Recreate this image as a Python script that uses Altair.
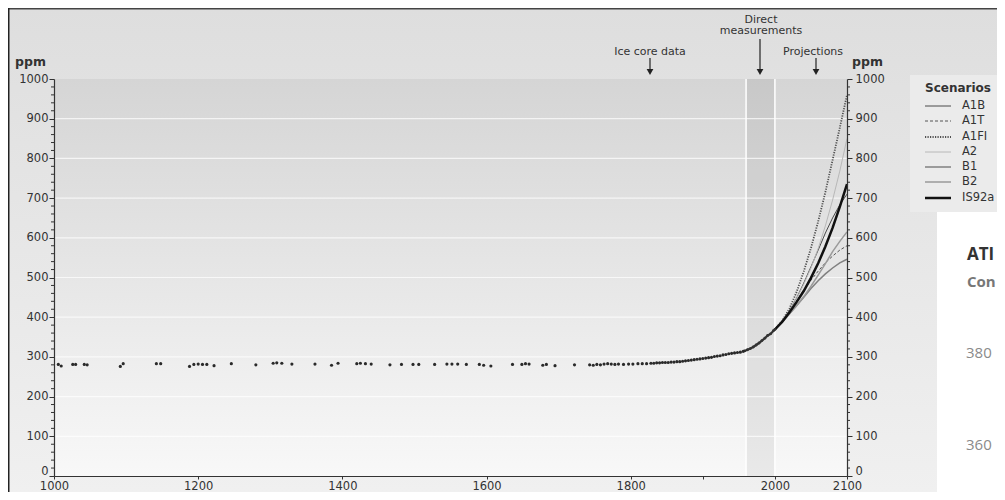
import altair as alt
import pandas as pd

# ---------------- data ----------------
ice_years = [1006, 1010, 1026, 1030, 1042, 1046, 1092, 1096, 1142, 1148,
             1188, 1194, 1200, 1206, 1212, 1222, 1246, 1280, 1304, 1309,
             1316, 1330, 1362, 1385, 1394, 1420, 1425, 1432, 1440, 1466,
             1482, 1498, 1506, 1528, 1545, 1552, 1560, 1572, 1590, 1596,
             1606, 1636, 1649, 1654, 1659, 1678, 1683, 1695, 1722, 1743,
             1748, 1753, 1758, 1763, 1768, 1773, 1778, 1783, 1790, 1797,
             1803, 1810, 1816, 1822, 1828, 1832, 1836, 1840, 1844, 1848,
             1852, 1856, 1860, 1864, 1868, 1872, 1876, 1880, 1884, 1888,
             1892, 1896, 1900, 1904, 1908, 1912, 1916, 1920, 1924, 1928,
             1932, 1936, 1940, 1944, 1948, 1952, 1956]
ice_ppm = [281, 277, 281, 281, 281, 280, 276, 283, 283, 283,
           276, 281, 282, 281, 281, 278, 283, 280, 284, 285,
           284, 282, 282, 279, 284, 283, 284, 283, 282, 280,
           281, 281, 281, 281, 282, 282, 282, 281, 281, 279,
           277, 281, 281, 283, 282, 279, 281, 278, 280, 280,
           279, 281, 280, 282, 283, 282, 281, 282, 281, 282,
           282, 283, 283, 283, 284, 284, 285, 285, 286, 286,
           286, 287, 287, 288, 288, 289, 290, 291, 292, 293,
           294, 295, 296, 297, 298, 299, 301, 302, 303, 305,
           306, 308, 309, 310, 311, 312, 314]

direct_years = [1958, 1962, 1966, 1970, 1974, 1978, 1982, 1986, 1990, 1994, 1998, 2000]
direct_ppm = [315, 318, 321, 325, 330, 335, 341, 347, 354, 358, 366, 369]

proj_years = [2000, 2010, 2020, 2030, 2040, 2050, 2060, 2070, 2080, 2090, 2100]
scenarios = ["A1B", "A1T", "A1FI", "A2", "B1", "B2", "IS92a"]
proj_values = {
    "A1B":   [369, 389, 416, 448, 486, 527, 569, 612, 650, 683, 710],
    "A1T":   [369, 389, 413, 441, 468, 493, 516, 537, 554, 569, 580],
    "A1FI":  [369, 391, 421, 463, 515, 574, 641, 715, 796, 877, 960],
    "A2":    [369, 390, 415, 447, 483, 524, 573, 630, 695, 768, 850],
    "B1":    [369, 388, 408, 429, 450, 472, 492, 509, 524, 537, 546],
    "B2":    [369, 388, 408, 429, 452, 478, 506, 535, 565, 591, 615],
    "IS92a": [369, 388, 412, 438, 466, 499, 536, 578, 625, 678, 735],
}

band_years = [1960, 2000]
y_ticks = [0, 100, 200, 300, 400, 500, 600, 700, 800, 900, 1000]
y_minor = [20, 40, 60, 80, 120, 140, 160, 180, 220, 240, 260, 280,
           320, 340, 360, 380, 420, 440, 460, 480, 520, 540, 560, 580,
           620, 640, 660, 680, 720, 740, 760, 780, 820, 840, 860, 880,
           920, 940, 960, 980]
y_grid = [100, 200, 300, 400, 500, 600, 700, 800, 900]
x_ticks = [1000, 1200, 1400, 1600, 1800, 1900, 2000, 2100]

# ---------------- styles ----------------
FONT = "DejaVu Sans"
W, H = 793, 397
PL, PT, PR, PB = 46, 71, 150, 16
TOTW, TOTH = W + PL + PR, H + PT + PB

styles = {
    "A1B":   dict(color="#4a4a4a", dash=None,    width=1.0),
    "A1T":   dict(color="#555555", dash=[3, 2],  width=1.0),
    "A1FI":  dict(color="#505050", dash=[1.2, 1.3], width=1.8),
    "A2":    dict(color="#b8b8b8", dash=None,    width=1.0),
    "B1":    dict(color="#808080", dash=None,    width=1.5),
    "B2":    dict(color="#9a9a9a", dash=None,    width=1.5),
    "IS92a": dict(color="#111111", dash=None,    width=2.5),
}

def px(x):
    return x - 54

def py(y):
    return y - 79

one = pd.DataFrame({"k": [0]})
ice_df = pd.DataFrame({"year": ice_years, "ppm": ice_ppm})
direct_df = pd.DataFrame({"year": direct_years, "ppm": direct_ppm})
proj_df = pd.DataFrame([
    {"year": yr, "ppm": v, "scenario": s}
    for s in scenarios for yr, v in zip(proj_years, proj_values[s])
])
band_df = pd.DataFrame({"start": [band_years[0]], "end": [band_years[1]]})
vline_df = pd.DataFrame({"year": band_years})
grid_df = pd.DataFrame({"v": y_grid})
minor_df = pd.DataFrame({"v": y_minor})

xscale = alt.Scale(domain=[1000, 2100], nice=False, zero=False)
yscale = alt.Scale(domain=[0, 1000], nice=False)

x_axis = alt.Axis(values=x_ticks, format="d", title=None, grid=False,
                  labelExpr="datum.value == 1900 ? '' : datum.label",
                  tickSize=3, labelPadding=1, labelFontSize=11.5, labelFlush=False,
                  domainColor="#333333", tickColor="#333333", domainWidth=1.2, zindex=2)

def X(field="year"):
    return alt.X(f"{field}:Q", scale=xscale, axis=x_axis)

def Ynone(field="ppm"):
    return alt.Y(f"{field}:Q", scale=yscale, axis=None)

def grad(c1, c2):
    return alt.Gradient(gradient="linear",
                        stops=[alt.GradientStop(color=c1, offset=0),
                               alt.GradientStop(color=c2, offset=1)],
                        x1=0, x2=0, y1=0, y2=1)

layers = []

# full background
layers.append(alt.Chart(one).mark_rect(fill=grad("#dedede", "#f0f0f0")).encode(
    x=alt.value(-PL), x2=alt.value(TOTW - PL), y=alt.value(-PT), y2=alt.value(TOTH - PT)))
# white block lower right
layers.append(alt.Chart(one).mark_rect(fill="#ffffff").encode(
    x=alt.value(px(937)), x2=alt.value(TOTW - PL), y=alt.value(py(212)), y2=alt.value(TOTH - PT)))
# legend box
layers.append(alt.Chart(one).mark_rect(fill="#ebebeb").encode(
    x=alt.value(px(910)), x2=alt.value(TOTW - PL), y=alt.value(py(75)), y2=alt.value(py(212))))
# frame lines
layers.append(alt.Chart(one).mark_rule(color="#444444", strokeWidth=1.5).encode(
    x=alt.value(-PL), x2=alt.value(TOTW - PL), y=alt.value(-PT + 0.75)))
layers.append(alt.Chart(one).mark_rule(color="#222222", strokeWidth=1.5).encode(
    x=alt.value(-PL + 0.75), y=alt.value(-PT), y2=alt.value(TOTH - PT)))
# plot area gradient
layers.append(alt.Chart(one).mark_rect(fill=grad("#d5d5d5", "#f8f8f8")).encode(
    x=alt.value(0), x2=alt.value(W), y=alt.value(0), y2=alt.value(H)))
# direct measurement band
layers.append(alt.Chart(band_df).mark_rect(fill="#000000", opacity=0.06).encode(
    x=X("start"), x2="end:Q", y=alt.value(0), y2=alt.value(H)))
# grid lines
layers.append(alt.Chart(grid_df).mark_rule(color="#ffffff", strokeWidth=1.2, opacity=0.7).encode(
    y=Ynone("v")))
layers.append(alt.Chart(vline_df).mark_rule(color="#ffffff", strokeWidth=1.5).encode(
    x=X("year")))
# minor ticks
layers.append(alt.Chart(minor_df).mark_rule(color="#333333", strokeWidth=1).encode(
    y=Ynone("v"), x=alt.value(-3), x2=alt.value(0)))
layers.append(alt.Chart(minor_df).mark_rule(color="#333333", strokeWidth=1).encode(
    y=Ynone("v"), x=alt.value(W), x2=alt.value(W + 3)))

# projections
for s in scenarios:
    st = styles[s]
    kw = dict(color=st["color"], strokeWidth=st["width"])
    if st["dash"] is not None:
        kw["strokeDash"] = st["dash"]
    layers.append(alt.Chart(proj_df).transform_filter(alt.datum.scenario == s)
                  .mark_line(**kw).encode(x=X(), y=Ynone()))

# direct measurements
layers.append(alt.Chart(direct_df).mark_line(color="#333333", strokeWidth=2.2).encode(
    x=X(), y=Ynone()))
layers.append(alt.Chart(direct_df).mark_circle(color="#333333", size=8, opacity=1).encode(
    x=X(), y=Ynone()))

# ice core points with left axis
zero_up = {"condition": {"test": "datum.value == 0", "value": -5}, "value": 0}
left_axis = alt.Axis(values=y_ticks, format="d", orient="left", title=None, grid=False,
                     tickSize=5, labelPadding=1, labelFlush=False, labelFontSize=11.5,
                     labelOffset=zero_up,
                     domainColor="#333333", tickColor="#333333",
                     domainWidth=1.2, zindex=2)
right_axis = alt.Axis(values=y_ticks, format="d", orient="right", title=None, grid=False,
                      tickSize=5, labelPadding=3, labelFlush=False, labelFontSize=11.5,
                      labelOffset=zero_up,
                      domainColor="#333333", tickColor="#333333",
                      domainWidth=1.2, zindex=2)
layers.append(alt.Chart(ice_df).mark_circle(color="#2a2a2a", size=10, opacity=1).encode(
    x=X(), y=alt.Y("ppm:Q", scale=yscale, axis=left_axis)))
layers.append(alt.Chart(grid_df).mark_rule(opacity=0).encode(
    y=alt.Y("v:Q", scale=yscale, axis=right_axis)))

# annotations
def text(t, x, y, size=11, bold=False, color="#333333", align="center", font=FONT):
    return alt.Chart(one).mark_text(text=t, fontSize=size, fontWeight="bold" if bold else "normal",
                                    color=color, align=align, baseline="middle", font=font).encode(
        x=alt.value(x), y=alt.value(y))

def arrow(x, y1, y2):
    r = alt.Chart(one).mark_rule(color="#222222", strokeWidth=1.2).encode(
        x=alt.value(x), y=alt.value(y1), y2=alt.value(y2))
    p = alt.Chart(one).mark_point(shape="triangle-down", filled=True, color="#222222",
                                  size=45, opacity=1).encode(x=alt.value(x), y=alt.value(y2 + 1))
    return [r, p]

layers.append(text("Ice core data", px(650), py(52)))
layers += arrow(px(650), py(58), py(71))
layers.append(text("Direct", px(761), py(20)))
layers.append(text("measurements", px(761), py(31)))
layers += arrow(px(760), py(39), py(71))
layers.append(text("Projections", px(813), py(52)))
layers += arrow(px(816), py(58), py(71))
layers.append(text("ppm", px(15), py(62), size=12.5, bold=True, align="left"))
layers.append(text("ppm", px(852), py(62), size=12.5, bold=True, align="left"))

# legend
layers.append(text("Scenarios", px(925), py(88), size=12, bold=True, align="left"))
leg_rows = [106, 121, 137, 152, 167, 182, 198]
for s, ry in zip(scenarios, leg_rows):
    st = styles[s]
    kw = dict(color=st["color"], strokeWidth=st["width"])
    if st["dash"] is not None:
        kw["strokeDash"] = st["dash"]
    layers.append(alt.Chart(one).mark_rule(**kw).encode(
        x=alt.value(px(925)), x2=alt.value(px(951)), y=alt.value(py(ry))))
    layers.append(text(s, px(962), py(ry), size=11.5, align="left"))

# background page fragments
layers.append(text("ATI", px(967), py(255), size=17, bold=True, align="left", color="#333333", font="Open Sans"))
layers.append(text("Con", px(967), py(282), size=15, bold=True, align="left", color="#777777", font="Open Sans"))
layers.append(text("380", px(966), py(353), size=15, align="left", color="#8a8a8a", font="Open Sans"))
layers.append(text("360", px(966), py(445), size=15, align="left", color="#8a8a8a", font="Open Sans"))

chart = alt.layer(*layers).resolve_axis(y="independent").properties(
    width=W, height=H, autosize="none",
    padding={"left": PL, "top": PT, "right": PR, "bottom": PB},
).configure_view(strokeWidth=0).configure_axis(
    labelFont=FONT, labelFontSize=12, labelColor="#333333"
)

chart.save("out.html", embed_options={"renderer": "svg", "actions": False})
